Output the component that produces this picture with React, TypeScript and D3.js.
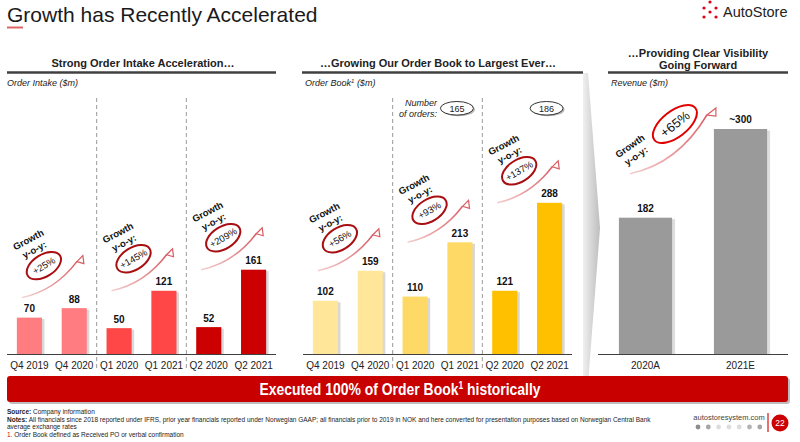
import React from "react";
import * as d3 from "d3";

// chart values
const quarterLabels = ["Q4 2019", "Q4 2020", "Q1 2020", "Q1 2021", "Q2 2020", "Q2 2021"];
const orderIntake = [70, 88, 50, 121, 52, 161];
const intakeGrowth = ["+25%", "+145%", "+209%"];
const orderBook = [102, 159, 110, 213, 121, 288];
const bookGrowth = ["+56%", "+93%", "+137%"];
const orderCounts = [null, null, null, 165, null, 186];
const revenueLabels = ["2020A", "2021E"];
const revenue = [182, 300];
const revenueText = ["182", "~300"];
const revenueGrowth = "+65%";

const intakeColors = ["#ff7c80", "#ff4747", "#cc0000"];
const bookColors = ["#ffe699", "#ffd966", "#ffc000"];
const logoDots = [[710, 2], [704, 8], [716, 8], [710, 12], [704, 17], [716, 17]];
const footerDots = ["#8c8c8c", "#a6a6a6", "#dcdcdc", "#dcdcdc", "#dcdcdc", "#b3b3b3", "#a6a6a6"];

const FONT = "Arial, 'Liberation Sans', Helvetica, sans-serif";
const W = 800;
const H = 442;

const yQuarter = d3.scaleLinear().domain([0, 300]).range([354.5, 196.5]);
const yRevenue = d3.scaleLinear().domain([0, 300]).range([354.5, 129]);

function Growth({ id, sx, sy, label }) {
  const ex = sx + 55;
  const ey = sy - 36;
  const p = d3.path();
  p.moveTo(sx, sy);
  p.quadraticCurveTo(sx + 33, sy - 7, ex, ey);
  const head = [[ex, ey], [ex + 6, ey - 6], [ex + 7, ey + 2]];
  const cx = sx + 22;
  const cy = sy - 32;
  return (
    <g>
      <defs>
        <linearGradient id={id} gradientUnits="userSpaceOnUse" x1={sx} y1={sy} x2={ex} y2={ey}>
          <stop offset="0" stopColor="#f4cfcf" />
          <stop offset="1" stopColor="#d95c62" />
        </linearGradient>
      </defs>
      <path d={p.toString()} fill="none" stroke={`url(#${id})`} strokeWidth={1.5} />
      <polygon points={head.map((d) => d.join(",")).join(" ")} fill="#fff" stroke="#d95c62" strokeWidth={1.2} />
      <text transform={`translate(${sx + 8},${sy - 55}) rotate(-28)`} textAnchor="middle" fontSize={9.5} fontWeight="bold" fill="#111">Growth</text>
      <text transform={`translate(${sx + 14},${sy - 45}) rotate(-28)`} textAnchor="middle" fontSize={9.5} fontWeight="bold" fill="#111">y-o-y:</text>
      <ellipse transform={`translate(${cx},${cy}) rotate(-32)`} rx={19} ry={11} fill="none" stroke="#a80f12" strokeWidth={2} />
      <text transform={`translate(${cx},${cy}) rotate(-30)`} textAnchor="middle" dy="0.35em" fontSize={9.5} fill="#111">{label}</text>
    </g>
  );
}

function QuarterPanel({ name, values, colors, growth, range, counts }) {
  const x = d3.scaleBand().domain(quarterLabels).range(range).paddingInner(0.44).paddingOuter(0.22);
  const bw = x.bandwidth();
  const seps = [1, 3].map((i) => (x(quarterLabels[i]) + bw + x(quarterLabels[i + 1])) / 2);
  return (
    <g>
      {seps.map((s, i) => (
        <line key={i} x1={s} x2={s} y1={98} y2={368} stroke="#9a9a9a" strokeDasharray="4 3" />
      ))}
      {values.map((v, i) => {
        const bx = x(quarterLabels[i]);
        const by = yQuarter(v);
        return (
          <g key={i}>
            <rect x={bx + 2.5} y={by + 1.5} width={bw} height={yQuarter(0) - by - 1.5} fill="#c8c8c8" opacity={0.7} />
            <rect x={bx} y={by} width={bw} height={yQuarter(0) - by} fill={colors[Math.floor(i / 2)]} />
            <text x={bx + bw / 2} y={by - 5.5} textAnchor="middle" fontSize={10} fontWeight="bold" fill="#111">{v}</text>
            <text x={bx + bw / 2} y={369} textAnchor="middle" fontSize={10} fill="#222">{quarterLabels[i]}</text>
          </g>
        );
      })}
      <line x1={range[0]} x2={range[1]} y1={yQuarter(0)} y2={yQuarter(0)} stroke="#404040" strokeWidth={1} />
      {growth.map((g, k) => {
        const a = values[k * 2];
        const b = values[k * 2 + 1];
        const sy = Math.min(yQuarter(b), yQuarter(a) - 20);
        return <Growth key={k} id={`${name}-g${k}`} sx={x(quarterLabels[k * 2]) + 5} sy={sy} label={g} />;
      })}
      {counts &&
        counts.map((c, i) => {
          if (c == null) return null;
          const cx = x(quarterLabels[i]) + bw / 2 - 3;
          return (
            <g key={i}>
              <ellipse cx={cx + 1.5} cy={109.5} rx={16.5} ry={6.8} fill="#b5b5b5" />
              <ellipse cx={cx} cy={108.3} rx={16.5} ry={6.8} fill="#fff" stroke="#333" strokeWidth={1} />
              <text x={cx} y={111.5} textAnchor="middle" fontSize={9} fill="#222">{c}</text>
            </g>
          );
        })}
    </g>
  );
}

function RevenuePanel() {
  const x = d3.scaleBand().domain(revenueLabels).range([598, 788]).paddingInner(0.44).paddingOuter(0.22);
  const bw = x.bandwidth();
  const x0 = x(revenueLabels[0]);
  const x1 = x(revenueLabels[1]);
  const sx = x0 + 11;
  const sy = yRevenue(revenue[0]) - 44;
  const ex = x1 - 7;
  const ey = yRevenue(revenue[1]) - 14;
  const p = d3.path();
  p.moveTo(sx, sy);
  p.quadraticCurveTo(sx + 48, sy - 10, ex, ey);
  const head = [[ex, ey], [ex + 9, ey - 7], [ex + 9, ey + 1]];
  return (
    <g>
      {revenue.map((v, i) => {
        const bx = x(revenueLabels[i]);
        const by = yRevenue(v);
        return (
          <g key={i}>
            <rect x={bx + 3} y={by + 1.5} width={bw} height={yRevenue(0) - by - 1.5} fill="#cfcfcf" opacity={0.7} />
            <rect x={bx} y={by} width={bw} height={yRevenue(0) - by} fill="#9a9a9a" />
            <text x={bx + bw / 2} y={by - 6} textAnchor="middle" fontSize={10} fontWeight="bold" fill="#111">{revenueText[i]}</text>
            <text x={bx + bw / 2} y={369} textAnchor="middle" fontSize={10} fill="#222">{revenueLabels[i]}</text>
          </g>
        );
      })}
      <line x1={598} x2={788} y1={yRevenue(0)} y2={yRevenue(0)} stroke="#404040" strokeWidth={1} />
      <defs>
        <linearGradient id="rev-g" gradientUnits="userSpaceOnUse" x1={sx} y1={sy} x2={ex} y2={ey}>
          <stop offset="0" stopColor="#f4cfcf" />
          <stop offset="1" stopColor="#d95c62" />
        </linearGradient>
      </defs>
      <path d={p.toString()} fill="none" stroke="url(#rev-g)" strokeWidth={1.5} />
      <polygon points={head.map((d) => d.join(",")).join(" ")} fill="#fff" stroke="#d95c62" strokeWidth={1.2} />
      <text transform={`translate(${sx + 2},${sy - 25}) rotate(-35)`} textAnchor="middle" fontSize={9.5} fontWeight="bold" fill="#111">Growth</text>
      <text transform={`translate(${sx + 8},${sy - 15}) rotate(-35)`} textAnchor="middle" fontSize={9.5} fontWeight="bold" fill="#111">y-o-y:</text>
      <ellipse transform={`translate(${ex - 32},${ey + 9}) rotate(-38)`} rx={26} ry={13} fill="none" stroke="#e00000" strokeWidth={2} />
      <text transform={`translate(${ex - 32},${ey + 9}) rotate(-38)`} textAnchor="middle" dy="0.35em" fontSize={13} fill="#111">{revenueGrowth}</text>
    </g>
  );
}

export default function App() {
  return (
    <>
      <style>{"body{margin:0;background:#fff}"}</style>
      <svg width={W} height={H} style={{ display: "block" }} fontFamily={FONT}>
        <rect width={W} height={H} fill="#fff" />
        {/* title + logo */}
        <text x={7} y={22} fontSize={21} fill="#1a1a1a">Growth has Recently Accelerated</text>
        <line x1={7} x2={23} y1={27.5} y2={27.5} stroke="#e06666" strokeWidth={2} />
        {logoDots.map((d, i) => (
          <circle key={i} cx={d[0]} cy={d[1]} r={1.6} fill="#e2001a" />
        ))}
        <text x={723} y={17} fontSize={14.5} fill="#222">AutoStore</text>

        {/* section headers */}
        <text x={143} y={67} textAnchor="middle" fontSize={11} fontWeight="bold" fill="#222">Strong Order Intake Acceleration…</text>
        <text x={438} y={67} textAnchor="middle" fontSize={11} fontWeight="bold" fill="#222">…Growing Our Order Book to Largest Ever…</text>
        <text x={698} y={57} textAnchor="middle" fontSize={11} fontWeight="bold" fill="#222">…Providing Clear Visibility</text>
        <text x={698} y={68.5} textAnchor="middle" fontSize={11} fontWeight="bold" fill="#222">Going Forward</text>
        <line x1={7} x2={276} y1={72.5} y2={72.5} stroke="#404040" strokeWidth={2.5} />
        <line x1={302} x2={583} y1={72.5} y2={72.5} stroke="#404040" strokeWidth={2.5} />
        <line x1={608} x2={788} y1={72.5} y2={72.5} stroke="#404040" strokeWidth={2.5} />
        <text x={7} y={86} fontSize={9} fontStyle="italic" fill="#222">Order Intake ($m)</text>
        <text x={305} y={86} fontSize={9} fontStyle="italic" fill="#222">
          Order Book<tspan fontSize={6} dy={-3}>1</tspan>
          <tspan dy={3}> ($m)</tspan>
        </text>
        <text x={611} y={86} fontSize={9} fontStyle="italic" fill="#222">Revenue ($m)</text>

        {/* chevron */}
        <defs>
          <linearGradient id="chev" x1="0" x2="1" y1="0" y2="0">
            <stop offset="0" stopColor="#f0f0f0" />
            <stop offset="1" stopColor="#bdbdbd" />
          </linearGradient>
        </defs>
        <polygon points="583,73 588,73 600,228 588,384 583,384" fill="url(#chev)" />

        <QuarterPanel name="oi" values={orderIntake} colors={intakeColors} growth={intakeGrowth} range={[7, 276]} counts={null} />
        <QuarterPanel name="ob" values={orderBook} colors={bookColors} growth={bookGrowth} range={[303, 572]} counts={orderCounts} />
        <text x={437} y={106} textAnchor="end" fontSize={9} fontStyle="italic" fill="#222">Number</text>
        <text x={437} y={117} textAnchor="end" fontSize={9} fontStyle="italic" fill="#222">of orders:</text>
        <RevenuePanel />

        {/* banner */}
        <rect x={9} y={378} width={781} height={26} rx={3} fill="#bdbdbd" />
        <rect x={7} y={376} width={781} height={26} rx={3} fill="#c80000" />
        <text transform="translate(400,395) scale(0.845,1)" textAnchor="middle" fontSize={16.5} fontWeight="bold" fill="#fff">
          Executed 100% of Order Book<tspan fontSize={10} dy={-6}>1</tspan>
          <tspan dy={6}> historically</tspan>
        </text>

        {/* footnotes */}
        <text x={7} y={414} fontSize={6.5} fill="#222">
          <tspan fontWeight="bold">Source:</tspan> Company information
        </text>
        <text x={7} y={421.5} fontSize={6.5} fill="#222">
          <tspan fontWeight="bold">Notes:</tspan> All financials since 2018 reported under IFRS, prior year financials reported under Norwegian GAAP; all financials prior to 2019 in NOK and here converted for presentation purposes based on Norwegian Central Bank
        </text>
        <text x={7} y={429} fontSize={6.5} fill="#222">average exchange rates</text>
        <text x={7} y={436.5} fontSize={6.5} fill="#222">
          <tspan fill="#e00000">1.</tspan> Order Book defined as Received PO or verbal confirmation
        </text>

        {/* footer */}
        <text x={729} y={420} textAnchor="middle" fontSize={7.5} fill="#444">autostoresystem.com</text>
        {footerDots.map((c, i) => (
          <circle key={i} cx={698 + i * 10.3} cy={427} r={2.4} fill={c} />
        ))}
        <line x1={768} x2={768} y1={413} y2={432} stroke="#e04040" strokeWidth={1.5} />
        <circle cx={780} cy={423} r={8.5} fill="#cc0000" />
        <text x={780} y={426} textAnchor="middle" fontSize={8.5} fill="#fff">22</text>
      </svg>
    </>
  );
}
